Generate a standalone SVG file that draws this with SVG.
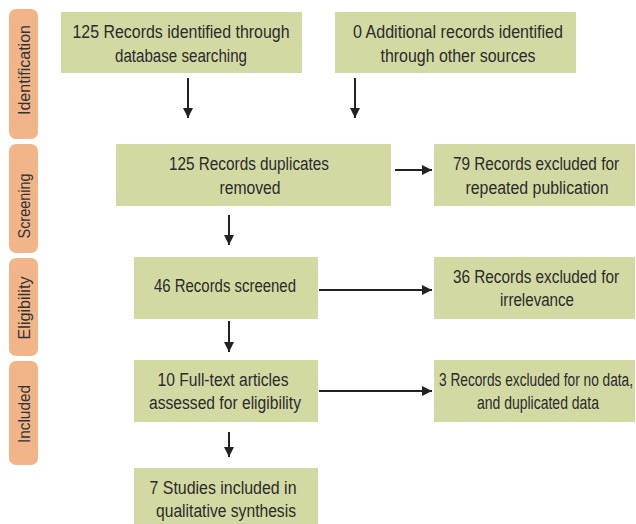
<svg xmlns="http://www.w3.org/2000/svg" width="636" height="524" viewBox="0 0 636 524">
<defs>
<style>
.stage{fill:#F2B58A;}
.box{fill:#D3D9A3;}
.t{font-family:"Liberation Sans",Arial,sans-serif;font-size:18px;fill:#2b2b2b;text-anchor:middle;}
.s{font-family:"Liberation Sans",Arial,sans-serif;font-size:16px;fill:#333;text-anchor:middle;}
.c{stroke:#222;stroke-width:2;fill:none;marker-end:url(#ah);}
</style>
<marker id="ah" viewBox="0 0 10 10" refX="10" refY="5" markerWidth="5" markerHeight="5" markerUnits="strokeWidth" orient="auto">
<path d="M0,0 L10,5 L0,10 Z" fill="#222"/>
</marker>
</defs>
<rect width="636" height="524" fill="#fff"/>
<g id="stage-identification"><rect class="stage" x="9" y="9" width="29" height="130" rx="7"/><text class="s" transform="translate(30,70) rotate(-90)" textLength="90" lengthAdjust="spacingAndGlyphs">Identification</text></g>
<g id="stage-screening"><rect class="stage" x="9" y="144" width="29" height="109" rx="7"/><text class="s" transform="translate(30,206) rotate(-90)" textLength="65" lengthAdjust="spacingAndGlyphs">Screening</text></g>
<g id="stage-eligibility"><rect class="stage" x="9" y="258" width="29" height="98" rx="7"/><text class="s" transform="translate(30,308) rotate(-90)" textLength="63" lengthAdjust="spacingAndGlyphs">Eligibility</text></g>
<g id="stage-included"><rect class="stage" x="9" y="361" width="29" height="104" rx="7"/><text class="s" transform="translate(30,414) rotate(-90)" textLength="58" lengthAdjust="spacingAndGlyphs">Included</text></g>

<g id="n1"><rect class="box" x="61" y="12" width="241" height="61"/><text class="t" x="181" y="38" textLength="217" lengthAdjust="spacingAndGlyphs">125 Records identified through</text><text class="t" x="181" y="62" textLength="132" lengthAdjust="spacingAndGlyphs">database searching</text></g>
<g id="n2"><rect class="box" x="335" y="12" width="241" height="61"/><text class="t" x="458" y="38" textLength="210" lengthAdjust="spacingAndGlyphs">0 Additional records identified</text><text class="t" x="458" y="62" textLength="155" lengthAdjust="spacingAndGlyphs">through other sources</text></g>
<g id="n3"><rect class="box" x="116" y="144" width="275" height="62"/><text class="t" x="249" y="170" textLength="160" lengthAdjust="spacingAndGlyphs">125 Records duplicates</text><text class="t" x="250" y="194" textLength="61" lengthAdjust="spacingAndGlyphs">removed</text></g>
<g id="n4"><rect class="box" x="434" y="144" width="201" height="62"/><text class="t" x="536" y="170" textLength="166" lengthAdjust="spacingAndGlyphs">79 Records excluded for</text><text class="t" x="537" y="194" textLength="143" lengthAdjust="spacingAndGlyphs">repeated publication</text></g>
<g id="n5"><rect class="box" x="134" y="257" width="184" height="62"/><text class="t" x="225" y="292" textLength="142" lengthAdjust="spacingAndGlyphs">46 Records screened</text></g>
<g id="n6"><rect class="box" x="434" y="257" width="201" height="62"/><text class="t" x="536" y="283" textLength="166" lengthAdjust="spacingAndGlyphs">36 Records excluded for</text><text class="t" x="537" y="306" textLength="74" lengthAdjust="spacingAndGlyphs">irrelevance</text></g>
<g id="n7"><rect class="box" x="134" y="360" width="184" height="62"/><text class="t" x="223" y="386" textLength="131" lengthAdjust="spacingAndGlyphs">10 Full-text articles</text><text class="t" x="225" y="409" textLength="152" lengthAdjust="spacingAndGlyphs">assessed for eligibility</text></g>
<g id="n8"><rect class="box" x="434" y="360" width="201" height="62"/><text class="t" x="536" y="386" textLength="194" lengthAdjust="spacingAndGlyphs">3 Records excluded for no data,</text><text class="t" x="538" y="409" textLength="122" lengthAdjust="spacingAndGlyphs">and duplicated data</text></g>
<g id="n9"><rect class="box" x="134" y="468" width="184" height="56"/><text class="t" x="223" y="494" textLength="147" lengthAdjust="spacingAndGlyphs">7 Studies included in</text><text class="t" x="226" y="517" textLength="140" lengthAdjust="spacingAndGlyphs">qualitative synthesis</text></g>

<g id="connectors">
<line class="c" x1="188" y1="78" x2="188" y2="118"/>
<line class="c" x1="355" y1="78" x2="355" y2="118"/>
<line class="c" x1="395" y1="170" x2="432" y2="170"/>
<line class="c" x1="229" y1="215" x2="229" y2="245"/>
<line class="c" x1="319" y1="290" x2="432" y2="290"/>
<line class="c" x1="229" y1="321" x2="229" y2="352"/>
<line class="c" x1="319" y1="391" x2="432" y2="391"/>
<line class="c" x1="229" y1="432" x2="229" y2="457"/>
</g>
</svg>
